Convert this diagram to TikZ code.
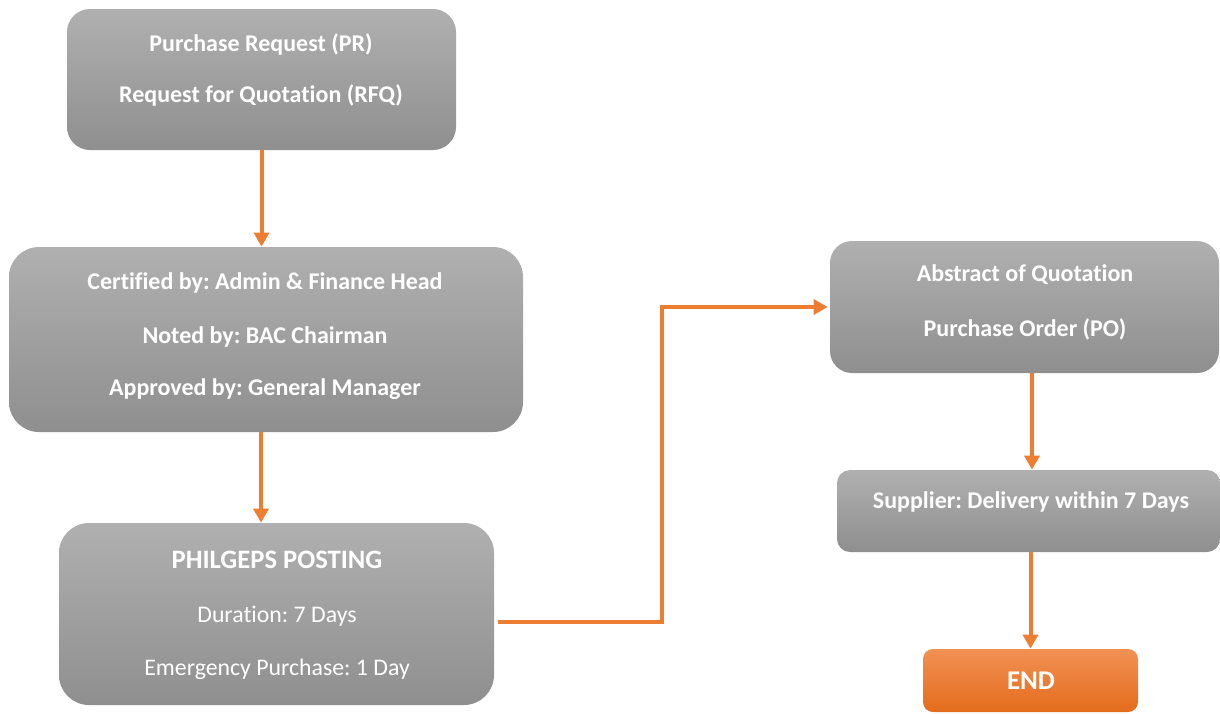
\documentclass[tikz,border=0pt]{standalone}
\usepackage{fontspec}
\setmainfont{Carlito}[Ligatures=NoCommon]
\frenchspacing
\usetikzlibrary{arrows.meta}

\definecolor{arroworange}{HTML}{ED7D31}
\definecolor{endtop}{RGB}{241,145,84}
\definecolor{endbottom}{RGB}{228,108,28}
\tikzstyle{box} = [draw=none,top color=black!31,bottom color=black!44,inner sep=0pt]
\tikzstyle{endbox} = [draw=none,top color=endtop,bottom color=endbottom,inner sep=0pt]
\tikzstyle{txt} = [text=white,font=\fontsize{12}{14}\selectfont\bfseries,inner sep=0pt]
\tikzstyle{txtn} = [text=white,font=\fontsize{11.9}{14}\selectfont,inner sep=0pt]
\tikzstyle{arrow} = [line width=2pt,arroworange,-{Triangle[length=7pt,width=7.5pt]}]

\begin{document}
\begin{tikzpicture}[x=0.5pt,y=-0.5pt]
\useasboundingbox (0,0) rectangle (1220,713);

% Boxes
\node [box,rounded corners=11.5pt,minimum width=194.5pt,minimum height=70.5pt] (pr) at (261.5,79.5) {};
\node [box,rounded corners=15pt,minimum width=257pt,minimum height=92.5pt] (cert) at (266,339.5) {};
\node [box,rounded corners=15pt,minimum width=217.5pt,minimum height=91pt] (phil) at (276.5,614) {};
\node [box,rounded corners=11pt,minimum width=194.5pt,minimum height=66pt] (abs) at (1024.5,307) {};
\node [box,rounded corners=6.5pt,minimum width=191.5pt,minimum height=41pt] (sup) at (1028.5,511) {};
\node [endbox,rounded corners=5pt,minimum width=107.5pt,minimum height=31.5pt] (end) at (1030.5,680.5) {};

% Texts
\node [txt] (pr1) at (261,44) {Purchase Request (PR)};
\node [txt] (pr2) at (261,95) {Request for Quotation (RFQ)};
\node [txt] (cert1) at (265,283) {Certified by: Admin \& Finance Head};
\node [txt] (cert2) at (265,337) {Noted by: BAC Chairman};
\node [txt] (cert3) at (265,389) {Approved by: General Manager};
\node [txt,font=\fontsize{13.3}{15}\selectfont\bfseries] (phil1) at (277,560) {PHILGEPS POSTING};
\node [txtn] (phil2) at (277,616) {Duration: 7 Days};
\node [txtn] (phil3) at (277,669) {Emergency Purchase: 1 Day};
\node [txt] (abs1) at (1025,275) {Abstract of Quotation};
\node [txt] (abs2) at (1025,329) {Purchase Order (PO)};
\node [txt] (sup1) at (1031,502) {Supplier: Delivery within 7 Days};
\node [txt,font=\fontsize{13.5}{15}\selectfont\bfseries] (end1) at (1031,681) {END};

% Arrows
\draw [arrow] (pr.south) -- (pr.south |- cert.north);
\draw [arrow] ([xshift=-2.5pt]cert.south) -- ([xshift=-2.5pt]cert.south |- phil.north);
\coordinate (bend) at (662,307);
\draw [arrow] ([xshift=2pt,yshift=-4pt]phil.east) -| (bend) -- ([xshift=-1pt]abs.west);
\draw [arrow] ([xshift=3.75pt]abs.south) -- ([xshift=3.75pt]abs.south |- sup.north);
\draw [arrow] ([xshift=1pt]sup.south) -- ([xshift=1pt]sup.south |- end.north);

\end{tikzpicture}
\end{document}
